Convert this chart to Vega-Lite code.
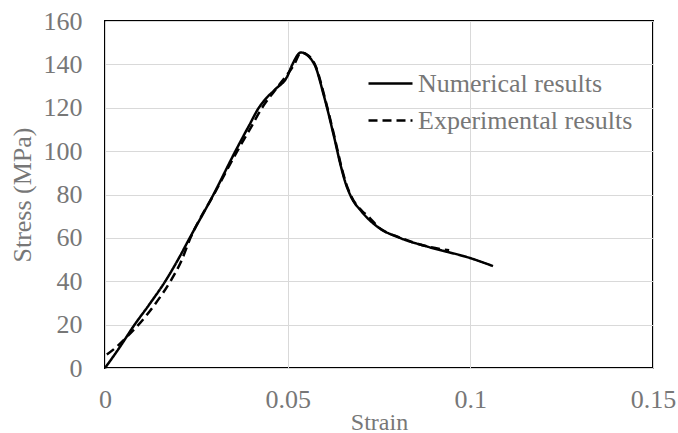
{
  "$schema": "https://vega.github.io/schema/vega-lite/v6.json",
  "width": 548,
  "height": 347,
  "autosize": {"type": "none"},
  "padding": {"left": 105, "top": 21, "right": 25, "bottom": 65},
  "background": "white",
  "config": {
    "font": "Liberation Serif",
    "view": {"stroke": "black", "strokeWidth": 2},
    "axis": {
      "labelFont": "Liberation Serif",
      "titleFont": "Liberation Serif",
      "labelFontSize": 26,
      "titleFontSize": 26,
      "labelColor": "#777777",
      "titleColor": "#777777",
      "titleFontWeight": "normal",
      "gridColor": "#d9d9d9",
      "gridWidth": 1,
      "domain": false,
      "ticks": false
    },
    "legend": {"labelFont": "Liberation Serif"}
  },
  "data": {
    "values": [
      {"strain": 0.0, "stress": 0.0, "series": "Numerical results"},
      {"strain": 0.004, "stress": 9.5, "series": "Numerical results"},
      {"strain": 0.0079, "stress": 19.5, "series": "Numerical results"},
      {"strain": 0.012, "stress": 29, "series": "Numerical results"},
      {"strain": 0.0165, "stress": 40, "series": "Numerical results"},
      {"strain": 0.02, "stress": 50, "series": "Numerical results"},
      {"strain": 0.0232, "stress": 60, "series": "Numerical results"},
      {"strain": 0.0297, "stress": 80, "series": "Numerical results"},
      {"strain": 0.0357, "stress": 100, "series": "Numerical results"},
      {"strain": 0.0395, "stress": 112, "series": "Numerical results"},
      {"strain": 0.0421, "stress": 120, "series": "Numerical results"},
      {"strain": 0.0442, "stress": 124.5, "series": "Numerical results"},
      {"strain": 0.0466, "stress": 128.5, "series": "Numerical results"},
      {"strain": 0.0499, "stress": 134.5, "series": "Numerical results"},
      {"strain": 0.0513, "stress": 140, "series": "Numerical results"},
      {"strain": 0.0536, "stress": 145.5, "series": "Numerical results"},
      {"strain": 0.0572, "stress": 140.4, "series": "Numerical results"},
      {"strain": 0.06, "stress": 125, "series": "Numerical results"},
      {"strain": 0.0627, "stress": 106.6, "series": "Numerical results"},
      {"strain": 0.0646, "stress": 92.8, "series": "Numerical results"},
      {"strain": 0.0658, "stress": 85.5, "series": "Numerical results"},
      {"strain": 0.0672, "stress": 79.5, "series": "Numerical results"},
      {"strain": 0.0703, "stress": 72, "series": "Numerical results"},
      {"strain": 0.0746, "stress": 65.1, "series": "Numerical results"},
      {"strain": 0.081, "stress": 59.8, "series": "Numerical results"},
      {"strain": 0.0884, "stress": 55.9, "series": "Numerical results"},
      {"strain": 0.1003, "stress": 50.5, "series": "Numerical results"},
      {"strain": 0.1062, "stress": 47, "series": "Numerical results"},
      {"strain": 0.0005, "stress": 6.2, "series": "Experimental results"},
      {"strain": 0.003, "stress": 9.5, "series": "Experimental results"},
      {"strain": 0.006, "stress": 14.4, "series": "Experimental results"},
      {"strain": 0.0092, "stress": 20, "series": "Experimental results"},
      {"strain": 0.0135, "stress": 29, "series": "Experimental results"},
      {"strain": 0.0179, "stress": 40, "series": "Experimental results"},
      {"strain": 0.0208, "stress": 49, "series": "Experimental results"},
      {"strain": 0.0234, "stress": 60, "series": "Experimental results"},
      {"strain": 0.0298, "stress": 80, "series": "Experimental results"},
      {"strain": 0.0362, "stress": 100, "series": "Experimental results"},
      {"strain": 0.0398, "stress": 110.5, "series": "Experimental results"},
      {"strain": 0.043, "stress": 120, "series": "Experimental results"},
      {"strain": 0.0465, "stress": 128, "series": "Experimental results"},
      {"strain": 0.0518, "stress": 140, "series": "Experimental results"},
      {"strain": 0.0537, "stress": 145.5, "series": "Experimental results"},
      {"strain": 0.0548, "stress": 145, "series": "Experimental results"},
      {"strain": 0.0577, "stress": 139, "series": "Experimental results"},
      {"strain": 0.0601, "stress": 125, "series": "Experimental results"},
      {"strain": 0.0628, "stress": 106.6, "series": "Experimental results"},
      {"strain": 0.0647, "stress": 92.8, "series": "Experimental results"},
      {"strain": 0.0659, "stress": 85.5, "series": "Experimental results"},
      {"strain": 0.0673, "stress": 79.5, "series": "Experimental results"},
      {"strain": 0.0703, "stress": 72.5, "series": "Experimental results"},
      {"strain": 0.0722, "stress": 69.7, "series": "Experimental results"},
      {"strain": 0.0746, "stress": 65.3, "series": "Experimental results"},
      {"strain": 0.081, "stress": 60, "series": "Experimental results"},
      {"strain": 0.0884, "stress": 56, "series": "Experimental results"},
      {"strain": 0.0942, "stress": 54.3, "series": "Experimental results"}
    ]
  },
  "mark": {"type": "line", "strokeWidth": 2.5, "color": "black", "interpolate": "monotone"},
  "encoding": {
    "x": {
      "field": "strain",
      "type": "quantitative",
      "title": "Strain",
      "scale": {"domain": [0, 0.15], "nice": false},
      "axis": {"values": [0, 0.05, 0.1, 0.15], "format": ".2~f", "labelPadding": 18, "titlePadding": -2, "titleFontSize": 24, "labelFlush": false}
    },
    "y": {
      "field": "stress",
      "type": "quantitative",
      "title": "Stress (MPa)",
      "scale": {"domain": [0, 160], "nice": false},
      "axis": {"values": [0, 20, 40, 60, 80, 100, 120, 140, 160], "labelPadding": 23, "titlePadding": 8}
    },
    "strokeDash": {
      "field": "series",
      "type": "nominal",
      "scale": {"domain": ["Numerical results", "Experimental results"], "range": [[1, 0], [9, 5]]},
      "legend": {
        "title": null,
        "orient": "none",
        "legendX": 262,
        "legendY": 39,
        "padding": 0,
        "symbolType": "stroke",
        "symbolSize": 1936,
        "symbolStrokeWidth": 2.5,
        "symbolStrokeColor": "black",
        "labelFont": "Liberation Serif",
        "labelFontSize": 26,
        "labelColor": "#777777",
        "labelOffset": 4,
        "rowPadding": -6,
        "labelLimit": 300
      }
    }
  }
}
